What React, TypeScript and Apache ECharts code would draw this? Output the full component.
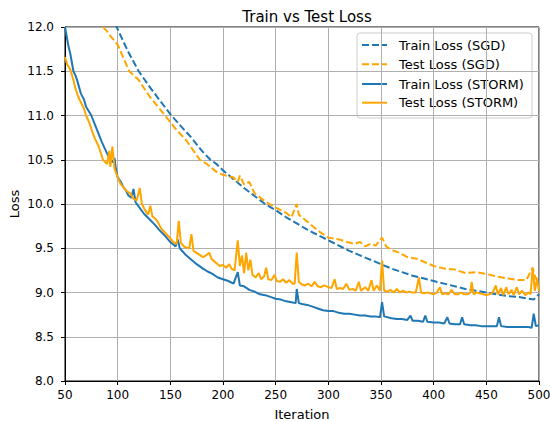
import React, { useEffect, useRef } from "react";
import * as echarts from "echarts";

const xTickLabels = ["50", "100", "150", "200", "250", "300", "350", "400", "450", "500"];
const yTickLabels = ["8.0", "8.5", "9.0", "9.5", "10.0", "10.5", "11.0", "11.5", "12.0"];

const seriesNames = ["Train Loss (SGD)", "Test Loss (SGD)", "Train Loss (STORM)", "Test Loss (STORM)"];

const trainSgdIter = [92, 99, 110, 120, 130, 140, 151, 160, 170, 180, 188, 194, 200, 210, 220, 230, 240, 250, 260, 270, 280, 290, 300, 310, 320, 330, 340, 350, 360, 370, 380, 390, 400, 410, 420, 430, 440, 450, 460, 470, 480, 490, 495, 500];
const trainSgd = [12.12, 12.0, 11.72, 11.5, 11.33, 11.17, 11.0, 10.88, 10.75, 10.6, 10.5, 10.45, 10.38, 10.28, 10.18, 10.09, 10.0, 9.93, 9.85, 9.78, 9.71, 9.65, 9.59, 9.53, 9.47, 9.42, 9.37, 9.32, 9.27, 9.23, 9.19, 9.16, 9.13, 9.1, 9.07, 9.04, 9.02, 9.0, 8.98, 8.96, 8.95, 8.93, 8.92, 8.98];

const testSgdIter = [82, 86, 90, 93, 100, 111, 120, 130, 145, 155, 165, 178, 185, 194, 200, 210, 214, 216, 220, 225, 230, 240, 250, 260, 265, 270, 272, 280, 290, 300, 310, 318, 325, 330, 335, 340, 345, 351, 355, 360, 367, 375, 385, 390, 400, 410, 420, 430, 440, 450, 460, 470, 480, 488, 494, 497, 500];
const testSgd = [12.1, 12.0, 11.95, 11.9, 11.8, 11.5, 11.4, 11.22, 11.0, 10.85, 10.72, 10.5, 10.45, 10.36, 10.33, 10.3, 10.25, 10.32, 10.22, 10.25, 10.12, 10.03, 9.96, 9.9, 9.85, 10.0, 9.88, 9.8, 9.7, 9.62, 9.6, 9.57, 9.55, 9.57, 9.52, 9.55, 9.53, 9.62, 9.52, 9.48, 9.45, 9.4, 9.38, 9.35, 9.3, 9.27, 9.26, 9.22, 9.23, 9.21, 9.18, 9.16, 9.14, 9.14, 9.28, 9.15, 9.2];

const trainStormIter = [50, 53, 55, 58, 60, 62, 65, 68, 70, 75, 80, 85, 90, 93, 95, 97, 98, 100, 103, 105, 108, 110, 113, 115, 117, 120, 125, 130, 135, 140, 145, 150, 155, 157, 159, 165, 170, 175, 181, 185, 190, 195, 200, 205, 210, 214, 216, 220, 225, 230, 235, 240, 245, 250, 255, 260, 265, 269, 270, 272, 275, 280, 285, 290, 295, 300, 305, 310, 315, 320, 325, 330, 335, 340, 345, 349, 351, 353, 360, 365, 370, 375, 378, 380, 385, 390, 392, 394, 400, 405, 410, 413, 415, 420, 425, 427, 429, 435, 440, 445, 450, 455, 460, 462, 464, 470, 475, 480, 485, 490, 493, 495, 497, 500];
const trainStorm = [12.0, 11.8, 11.7, 11.5, 11.45, 11.38, 11.25, 11.18, 11.1, 11.0, 10.85, 10.7, 10.57, 10.5, 10.47, 10.52, 10.42, 10.3, 10.25, 10.2, 10.15, 10.1, 10.07, 10.17, 10.02, 9.97, 9.89, 9.83, 9.77, 9.7, 9.64, 9.57, 9.52, 9.6, 9.5, 9.42, 9.37, 9.32, 9.27, 9.24, 9.21, 9.17, 9.15, 9.13, 9.1, 9.23, 9.08, 9.07, 9.03, 9.01, 8.98, 8.97, 8.95, 8.93, 8.92, 8.9, 8.89, 8.88, 9.04, 8.88, 8.87, 8.86, 8.84, 8.82, 8.8, 8.79, 8.79, 8.77, 8.76, 8.76, 8.75, 8.74, 8.74, 8.73, 8.73, 8.72, 8.89, 8.73, 8.71, 8.7, 8.7, 8.69, 8.74, 8.68, 8.68, 8.67, 8.74, 8.67, 8.66, 8.66, 8.65, 8.72, 8.65, 8.64, 8.64, 8.72, 8.64, 8.63, 8.63, 8.62, 8.62, 8.62, 8.62, 8.72, 8.62, 8.61, 8.61, 8.61, 8.61, 8.61, 8.6, 8.76, 8.62, 8.63];

const testStormIter = [50, 52, 55, 58, 60, 63, 65, 68, 70, 73, 75, 78, 82, 86, 90, 92, 93, 95, 97, 100, 103, 105, 108, 112, 115, 118, 121, 123, 126, 129, 131, 133, 136, 138, 141, 143, 147, 150, 153, 156, 158, 160, 163, 165, 168, 170, 172, 176, 181, 184, 187, 189, 193, 197, 200, 203, 206, 208, 211, 214, 216, 218, 220, 222, 224, 226, 228, 231, 234, 236, 239, 241, 243, 246, 249, 251, 254, 257, 260, 263, 266, 268, 270, 272, 275, 278, 281, 284, 287, 290, 293, 296, 300, 303, 306, 308, 311, 314, 317, 320, 323, 326, 329, 331, 335, 338, 341, 343, 346, 349, 351, 353, 356, 359, 362, 365, 368, 371, 374, 377, 380, 383, 386, 388, 391, 394, 397, 400, 403, 406, 408, 411, 414, 417, 420, 423, 426, 429, 432, 435, 436, 438, 441, 444, 447, 450, 453, 456, 459, 461, 464, 466, 469, 471, 474, 476, 479, 481, 484, 487, 490, 492, 494, 496, 498, 500];
const testStorm = [11.66, 11.58, 11.52, 11.4, 11.3, 11.2, 11.15, 11.08, 11.0, 10.92, 10.85, 10.75, 10.65, 10.5, 10.45, 10.6, 10.42, 10.65, 10.4, 10.3, 10.22, 10.2, 10.15, 10.12, 10.06, 10.04, 10.18, 10.0, 9.93, 9.88, 9.98, 9.86, 9.83, 9.8, 9.73, 9.7, 9.65, 9.61, 9.57, 9.55, 9.81, 9.56, 9.52, 9.51, 9.5, 9.66, 9.47, 9.44, 9.4, 9.42, 9.45, 9.38, 9.34, 9.3, 9.31, 9.28, 9.32, 9.27, 9.25, 9.59, 9.3, 9.42, 9.22, 9.45, 9.25, 9.37, 9.2, 9.17, 9.22, 9.15, 9.18, 9.28, 9.15, 9.14, 9.2, 9.13, 9.12, 9.15, 9.11, 9.14, 9.1, 9.1, 9.45, 9.12, 9.09, 9.08, 9.1, 9.07, 9.12, 9.07, 9.06, 9.08, 9.06, 9.05, 9.15, 9.04, 9.05, 9.04, 9.1, 9.03, 9.04, 9.02, 9.12, 9.02, 9.06, 9.02, 9.14, 9.02, 9.08, 9.02, 9.36, 9.02, 9.01, 9.03, 9.0, 9.04, 9.0, 9.02, 9.0, 9.01, 9.0, 9.0, 9.17, 9.0, 8.99, 9.0, 8.99, 8.98, 9.0, 9.06, 8.98, 8.99, 8.98, 9.03, 8.98, 8.98, 9.0, 8.98, 8.98, 9.0, 9.12, 8.98, 9.0, 8.99, 8.98, 8.97, 8.98, 9.0, 9.08, 8.98, 9.05, 8.97, 9.06, 8.98, 9.03, 8.97, 9.06, 8.98, 9.02, 8.97, 9.0, 8.98, 9.28, 9.02, 9.15, 9.02];

const BLUE = "#1f77b4";
const ORANGE = "#ffa500";
const FONT = "DejaVu Sans";
const DASH = [7, 3];

const pairs = (xs: number[], ys: number[]) => xs.map((x, i) => [x, ys[i]]);

export default function App() {
  const ref = useRef<HTMLDivElement>(null);
  useEffect(() => {
    if (!ref.current) return;
    const chart = echarts.init(ref.current, undefined, { renderer: "svg" });
    const colors = [BLUE, ORANGE, BLUE, ORANGE];
    const dashed = [true, true, false, false];
    const mk = (i: number, data: number[][]) => ({
      name: seriesNames[i],
      type: "line",
      data,
      showSymbol: false,
      symbol: "none",
      clip: true,
      lineStyle: { color: colors[i], width: 2, type: dashed[i] ? DASH : "solid" },
      itemStyle: { color: colors[i] },
      emphasis: { disabled: true },
    });

    // manual matplotlib-style legend
    const lgX = 357, lgY = 33, lgW = 175, lgH = 85;
    const rowY = [45, 64.3, 84, 102.7];
    const legendChildren: any[] = [
      {
        type: "rect",
        shape: { x: lgX, y: lgY, width: lgW, height: lgH, r: 3 },
        style: { fill: "rgba(255,255,255,0.8)", stroke: "#cccccc", lineWidth: 1 },
      },
    ];
    seriesNames.forEach((name, i) => {
      legendChildren.push({
        type: "line",
        shape: { x1: 362, y1: rowY[i], x2: 387, y2: rowY[i] },
        style: { stroke: colors[i], lineWidth: 2, lineDash: dashed[i] ? DASH : null },
      });
      legendChildren.push({
        type: "text",
        x: 399,
        y: rowY[i],
        style: { text: name, fontFamily: FONT, fontSize: 13, fill: "#000", verticalAlign: "middle", align: "left" },
      });
    });

    chart.setOption({
      animation: false,
      backgroundColor: "#fff",
      textStyle: { fontFamily: FONT },
      title: {
        text: "Train vs Test Loss",
        left: 302,
        top: 4,
        textAlign: "center",
        textStyle: { fontFamily: FONT, fontSize: 15, fontWeight: "normal", color: "#000" },
      },
      grid: {
        left: 65,
        right: 11,
        top: 27,
        bottom: 41,
        show: true,
        borderColor: "#000",
        borderWidth: 1,
        backgroundColor: "transparent",
        outerBoundsMode: "none",
        containLabel: false,
      },
      graphic: [{ type: "group", z: 100, children: legendChildren }],
      xAxis: {
        type: "value",
        min: 50,
        max: 500,
        interval: 50,
        name: "Iteration",
        nameLocation: "middle",
        nameGap: 27,
        nameMoveOverlap: false,
        nameTextStyle: { fontFamily: FONT, fontSize: 13, color: "#000" },
        axisLine: { show: true, lineStyle: { color: "#000", width: 1 } },
        axisTick: { show: true, length: 4, lineStyle: { color: "#000" } },
        axisLabel: {
          fontFamily: FONT,
          fontSize: 12,
          color: "#000",
          margin: 8,
          formatter: (v: number) => xTickLabels[Math.round((v - 50) / 50)] ?? String(v),
        },
        splitLine: { show: true, lineStyle: { color: "#b0b0b0", width: 1 } },
      },
      yAxis: {
        type: "value",
        min: 8,
        max: 12,
        interval: 0.5,
        name: "Loss",
        nameLocation: "middle",
        nameGap: 44,
        nameMoveOverlap: false,
        nameTextStyle: { fontFamily: FONT, fontSize: 13, color: "#000" },
        axisLine: { show: true, lineStyle: { color: "#000", width: 1 } },
        axisTick: { show: true, length: 4, lineStyle: { color: "#000" } },
        axisLabel: {
          fontFamily: FONT,
          fontSize: 12,
          color: "#000",
          margin: 11,
          formatter: (v: number) => yTickLabels[Math.round((v - 8) / 0.5)] ?? v.toFixed(1),
        },
        splitLine: { show: true, lineStyle: { color: "#b0b0b0", width: 1 } },
      },
      series: [
        mk(0, pairs(trainSgdIter, trainSgd)),
        mk(1, pairs(testSgdIter, testSgd)),
        mk(2, pairs(trainStormIter, trainStorm)),
        mk(3, pairs(testStormIter, testStorm)),
      ],
    });
    return () => chart.dispose();
  }, []);
  return <div ref={ref} style={{ position: "fixed", left: 0, top: 0, width: 550, height: 422 }} />;
}
